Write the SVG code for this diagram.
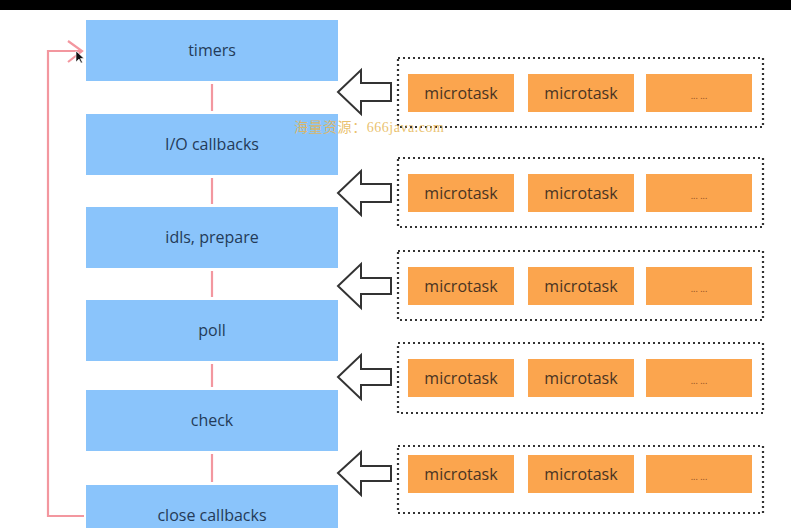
<svg xmlns="http://www.w3.org/2000/svg" width="791" height="528" viewBox="0 0 791 528">
<style>
.phase{fill:#8ac4fb;}
.phase-t{font-family:"Open Sans","Noto Sans",sans-serif;font-size:16px;fill:#243b58;text-anchor:middle;}
.queue{fill:none;stroke:#333;stroke-width:2.2;stroke-dasharray:2 3;}
.task{fill:#fba54e;}
.task-t{font-family:"Open Sans","Noto Sans",sans-serif;font-size:16px;fill:#4a3422;text-anchor:middle;}
.dots{font-family:"Open Sans","Noto Sans",sans-serif;font-size:9px;fill:#8a4a20;text-anchor:middle;}
.link{stroke:#f3979f;stroke-width:2.2;fill:none;}
.hollow{fill:#fff;stroke:#333;stroke-width:2;stroke-linejoin:miter;}
</style>
<rect x="0" y="0" width="791" height="528" fill="#fff"/>
<rect x="0" y="0" width="791" height="10" fill="#000"/>

<g id="connectors">
<path class="link" d="M84,516 H48 V51 H81"/>
<path class="link" d="M68,41 L82,51 L68,62"/>
<line class="link" x1="212" y1="84" x2="212" y2="111"/>
<line class="link" x1="212" y1="178" x2="212" y2="204"/>
<line class="link" x1="212" y1="271" x2="212" y2="297"/>
<line class="link" x1="212" y1="364" x2="212" y2="387"/>
<line class="link" x1="212" y1="454" x2="212" y2="482"/>
<polygon class="hollow" points="338,92 361,70 361,83 391,83 391,101 361,101 361,114"/>
<polygon class="hollow" points="338,193 361,171 361,184 391,184 391,202 361,202 361,215"/>
<polygon class="hollow" points="338,286 361,264 361,278 391,278 391,294 361,294 361,308"/>
<polygon class="hollow" points="338,377 361,355 361,369 391,369 391,385 361,385 361,399"/>
<polygon class="hollow" points="338,473 361,452 361,466 391,466 391,481 361,481 361,495"/>
</g>

<g id="timers"><rect class="phase" x="86" y="20" width="252" height="61"/><text class="phase-t" x="212" y="56">timers</text></g>
<g id="io-callbacks"><rect class="phase" x="86" y="114" width="252" height="61"/><text class="phase-t" x="212" y="150">I/O callbacks</text></g>
<g id="idls-prepare"><rect class="phase" x="86" y="207" width="252" height="61"/><text class="phase-t" x="212" y="243">idls, prepare</text></g>
<g id="poll"><rect class="phase" x="86" y="300" width="252" height="61"/><text class="phase-t" x="212" y="336">poll</text></g>
<g id="check"><rect class="phase" x="86" y="390" width="252" height="61"/><text class="phase-t" x="212" y="426">check</text></g>
<g id="close-callbacks"><rect class="phase" x="86" y="485" width="252" height="50"/><text class="phase-t" x="212" y="521">close callbacks</text></g>

<g id="queue1"><rect class="queue" x="398" y="58" width="365" height="69"/>
<rect class="task" x="408" y="74" width="106" height="38"/><text class="task-t" x="461" y="99">microtask</text>
<rect class="task" x="528" y="74" width="106" height="38"/><text class="task-t" x="581" y="99">microtask</text>
<rect class="task" x="646" y="74" width="106" height="38"/><text class="dots" x="699" y="99">... ...</text></g>

<g id="queue2"><rect class="queue" x="398" y="158" width="365" height="69"/>
<rect class="task" x="408" y="174" width="106" height="38"/><text class="task-t" x="461" y="199">microtask</text>
<rect class="task" x="528" y="174" width="106" height="38"/><text class="task-t" x="581" y="199">microtask</text>
<rect class="task" x="646" y="174" width="106" height="38"/><text class="dots" x="699" y="199">... ...</text></g>

<g id="queue3"><rect class="queue" x="398" y="251" width="365" height="69"/>
<rect class="task" x="408" y="267" width="106" height="38"/><text class="task-t" x="461" y="292">microtask</text>
<rect class="task" x="528" y="267" width="106" height="38"/><text class="task-t" x="581" y="292">microtask</text>
<rect class="task" x="646" y="267" width="106" height="38"/><text class="dots" x="699" y="292">... ...</text></g>

<g id="queue4"><rect class="queue" x="398" y="343" width="365" height="70"/>
<rect class="task" x="408" y="359" width="106" height="38"/><text class="task-t" x="461" y="384">microtask</text>
<rect class="task" x="528" y="359" width="106" height="38"/><text class="task-t" x="581" y="384">microtask</text>
<rect class="task" x="646" y="359" width="106" height="38"/><text class="dots" x="699" y="384">... ...</text></g>

<g id="queue5"><rect class="queue" x="398" y="446" width="365" height="67"/>
<rect class="task" x="408" y="455" width="106" height="38"/><text class="task-t" x="461" y="480">microtask</text>
<rect class="task" x="528" y="455" width="106" height="38"/><text class="task-t" x="581" y="480">microtask</text>
<rect class="task" x="646" y="455" width="106" height="38"/><text class="dots" x="699" y="480">... ...</text></g>

<text x="294" y="132" font-family="'Liberation Serif','Noto Sans CJK SC',serif" font-size="14" fill="#e6b552" fill-opacity="0.85" textLength="150">海量资源：666java.com</text>
<polygon points="76,51 76,62 79,59 81,63 82.5,62.5 80.5,58.5 84,58.5" fill="#111" stroke="#fff" stroke-width="0.6"/>
</svg>
